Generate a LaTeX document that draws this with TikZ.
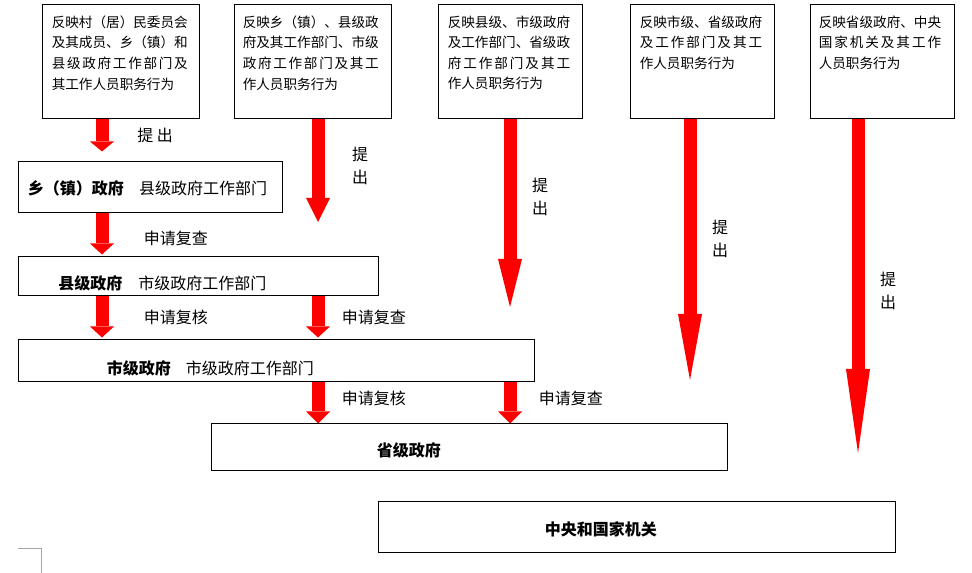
\documentclass[tikz,border=0pt]{standalone}
\usepackage{fontspec}
\setmainfont{Noto Sans CJK SC}
\usepackage{tikz}
\usetikzlibrary{arrows.meta,fit}

% spread the characters of one line over a given width
\newcommand{\spreadline}[2]{\makebox[#1][s]{\sprfirst#2\relax}}
\def\sprfirst#1{#1\sprrest}
\def\sprrest#1{\ifx#1\relax\else\hfill#1\expandafter\sprrest\fi}

\tikzset{
  box/.style={draw, line width=0.75pt, inner sep=0pt},
  toptext/.style={anchor=north west, align=left, inner sep=0pt, font=\fontsize{10.2pt}{15.4pt}\selectfont},
  lbl/.style={anchor=west, inner sep=0pt, font=\fontsize{12pt}{14pt}\selectfont},
  vlbl/.style={align=center, inner sep=0pt, font=\fontsize{12pt}{17.25pt}\selectfont},
  fat/.style={draw=red, line width=9.75pt, -{Triangle[length=#1, width=18pt, line width=0pt]}}
}

\begin{document}
\begin{tikzpicture}[x=0.75pt, y=-0.75pt]
  \useasboundingbox (0,0) rectangle (972,573);

  % upper row
  \node[box, fit={(42,5) (199,119)}] (t1) {};
  \node[box, fit={(234,5) (391,119)}] (t2) {};
  \node[box, fit={(438,5) (582,119)}] (t3) {};
  \node[box, fit={(630,5) (774,119)}] (t4) {};
  \node[box, fit={(810,5) (954,119)}] (t5) {};

  \node[toptext] (t1txt) at ([shift={(10,11)}]t1.north west) {反映村（居）民委员会\\及其成员、乡（镇）和\\\spreadline{10em}{县级政府工作部门及}\\其工作人员职务行为};
  \node[toptext] (t2txt) at ([shift={(9,11)}]t2.north west) {反映乡（镇）、县级政\\府及其工作部门、市级\\\spreadline{10em}{政府工作部门及其工}\\作人员职务行为};
  \node[toptext] (t3txt) at ([shift={(10,11)}]t3.north west) {反映县级、市级政府\\及工作部门、省级政\\\spreadline{9em}{府工作部门及其工}\\作人员职务行为};
  \node[toptext] (t4txt) at ([shift={(10,11)}]t4.north west) {反映市级、省级政府\\\spreadline{9em}{及工作部门及其工}\\作人员职务行为};
  \node[toptext] (t5txt) at ([shift={(9,11)}]t5.north west) {反映省级政府、中央\\\spreadline{9em}{国家机关及其工作}\\人员职务行为};

  % levels
  \node[box, fit={(18,162) (282,213)}] (xiang) {};
  \node[box, fit={(18,257) (378,296)}] (xian) {};
  \node[box, fit={(18,340) (534,382)}] (shi) {};
  \node[box, fit={(211,424) (727,471)}] (sheng) {};
  \node[box, fit={(378,502) (895,553)}] (zy) {};

  \node[lbl] (xiangtxt) at (27.5,188) {\textbf{乡（镇）政府}\hspace{11.5pt}县级政府工作部门};
  \node[lbl] (xiantxt) at (58,283) {\textbf{县级政府}\hspace{12pt}市级政府工作部门};
  \node[lbl] (shitxt) at (106.5,368) {\textbf{市级政府}\hspace{11.25pt}市级政府工作部门};
  \node[lbl] (shengtxt) at (376.5,450) {\textbf{省级政府}};
  \node[lbl] (zytxt) at (544.5,529) {\textbf{中央和国家机关}};

  % arrow columns and free tips
  \coordinate (ca) at (102,0);
  \coordinate (cb) at (318,0);
  \coordinate (cc) at (510,0);
  \coordinate (tip2) at (318,222);
  \coordinate (tip3) at (510,307);
  \coordinate (tip4) at (690,380);
  \coordinate (tip5) at (858,453);

  \draw[fat=7.5pt, shorten >=7.5pt] (t1.south -| ca) -- (xiang.north -| ca);
  \draw[fat=18pt] (t2.south -| tip2) -- (tip2);
  \draw[fat=36pt] (t3.south -| tip3) -- (tip3);
  \draw[fat=49.5pt] (t4.south -| tip4) -- (tip4);
  \draw[fat=63pt] (t5.south -| tip5) -- (tip5);

  \draw[fat=8.25pt, shorten >=1.5pt] (xiang.south -| ca) -- (xian.north -| ca);
  \draw[fat=8.25pt, shorten >=1.5pt] (xian.south -| ca) -- (shi.north -| ca);
  \draw[fat=8.25pt, shorten >=1.5pt] (xian.south -| cb) -- (shi.north -| cb);
  \draw[fat=9pt] (shi.south -| cb) -- (sheng.north -| cb);
  \draw[fat=9pt] (shi.south -| cc) -- (sheng.north -| cc);

  % labels
  \node[lbl] (l1) at (137,135) {提 出};
  \node[vlbl] (l2) at (360,165.5) {提\\出};
  \node[vlbl] (l3) at (540,196.5) {提\\出};
  \node[vlbl] (l4) at (720,238.5) {提\\出};
  \node[vlbl] (l5) at (888,290.5) {提\\出};

  \node[lbl] (r1) at (143.5,238) {申请复查};
  \node[lbl] (r2) at (143.5,317) {申请复核};
  \node[lbl] (r3) at (341.5,317) {申请复查};
  \node[lbl] (r4) at (341.5,398) {申请复核};
  \node[lbl] (r5) at (538.5,398) {申请复查};

  % page corner mark
  \draw[black!35, line width=0.75pt] (18,549) -- (41.5,549) -- (41.5,573);
\end{tikzpicture}
\end{document}
